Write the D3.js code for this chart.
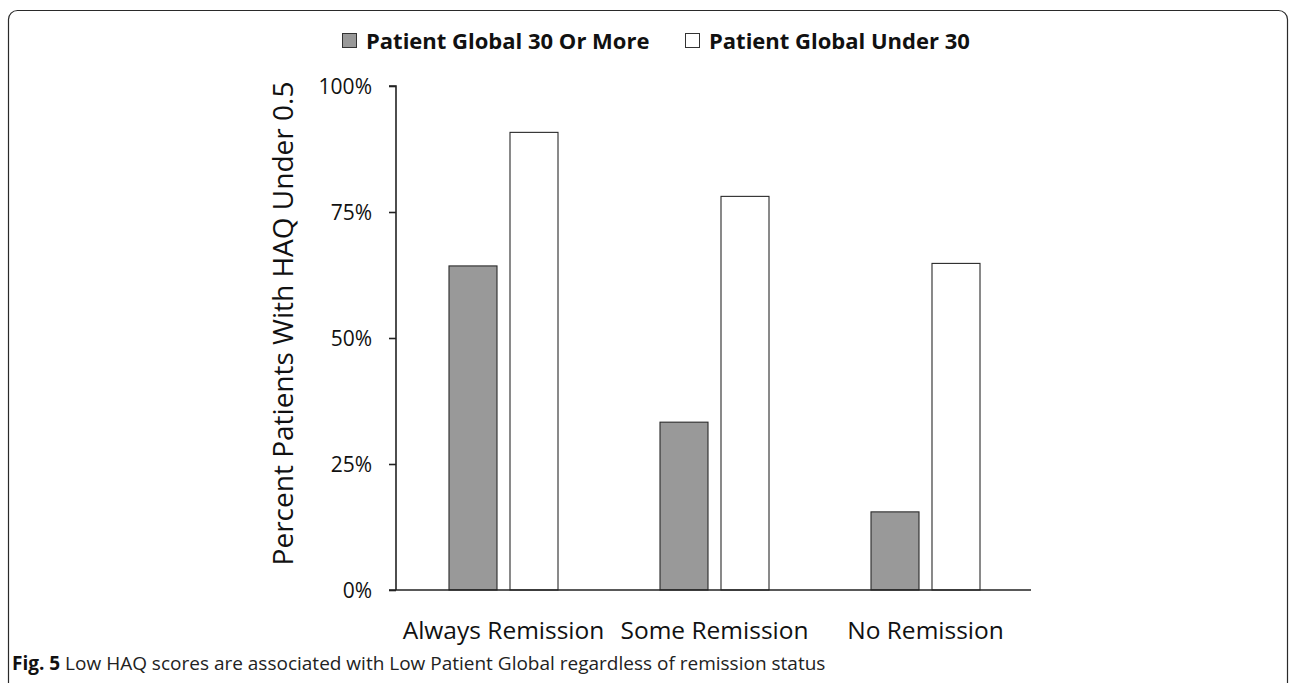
<!DOCTYPE html>
<html>
<head>
<meta charset="utf-8">
<script src="https://cdn.jsdelivr.net/npm/d3@7"></script>
<style>
  html, body { margin: 0; padding: 0; background: #fff; }
  svg { display: block; }
</style>
</head>
<body>
<svg id="chart" width="1290" height="683"></svg>
<script>
// Remission groups along the x axis
const categories = ["Always Remission", "Some Remission", "No Remission"];
// Series names, as shown in the legend
const seriesNames = ["Patient Global 30 Or More", "Patient Global Under 30"];
// Percent of patients with HAQ under 0.5, per group
const globalHigh = [64.3, 33.3, 15.5];
const globalLow = [90.8, 78.1, 64.8];
// Y axis ticks
const yTicks = [0, 25, 50, 75, 100];

const seriesValues = [globalHigh, globalLow];
const seriesFill = ["#999999", "#ffffff"];

const svg = d3.select("#chart");
const font = "'Open Sans', 'Noto Sans', sans-serif";

// Rounded frame around the figure (bottom runs past the page edge)
svg.append("rect")
  .attr("x", 8.5).attr("y", 10.5)
  .attr("width", 1279).attr("height", 700)
  .attr("rx", 9).attr("ry", 9)
  .attr("fill", "none").attr("stroke", "#2a2a2a").attr("stroke-width", 1.2);

const plot = { left: 396, right: 1031, top: 86, bottom: 590 };

const x0 = d3.scaleBand().domain(categories)
  .range([plot.left + 2, plot.right]).paddingInner(0).paddingOuter(0);
const x1 = d3.scaleBand().domain(d3.range(seriesNames.length))
  .range([0, x0.bandwidth()]).paddingInner(0.213).paddingOuter(0.836);
const y = d3.scaleLinear().domain([0, 100]).range([plot.bottom, plot.top]);

// Bars
const groups = svg.append("g").selectAll("g")
  .data(categories).join("g")
  .attr("transform", d => `translate(${x0(d)},0)`);

groups.selectAll("rect")
  .data((d, i) => seriesValues.map((vals, s) => ({ s, v: vals[i] })))
  .join("rect")
  .attr("x", d => x1(d.s))
  .attr("y", d => y(d.v))
  .attr("width", x1.bandwidth())
  .attr("height", d => y(0) - y(d.v))
  .attr("fill", d => seriesFill[d.s])
  .attr("stroke", "#2a2a2a")
  .attr("stroke-width", 1.1);

// Y axis
const yAxis = d3.axisLeft(y).tickValues(yTicks)
  .tickFormat(d => d + "%").tickSize(7).tickPadding(17);
const gy = svg.append("g").attr("transform", `translate(${plot.left},0)`).call(yAxis);
gy.select(".domain").attr("stroke", "#222").attr("stroke-width", 1.6)
  .attr("d", `M-7,${plot.top}H0V${plot.bottom}`);
gy.selectAll(".tick line").attr("stroke", "#222").attr("stroke-width", 1.6);
gy.selectAll(".tick text").attr("font-family", font).attr("font-size", 21)
  .attr("fill", "#111").attr("dy", "0.35em");

// X axis
const xAxis = d3.axisBottom(x0).tickSize(0).tickPadding(40);
const gx = svg.append("g").attr("transform", `translate(0,${plot.bottom})`).call(xAxis);
gx.select(".domain").attr("stroke", "#222").attr("stroke-width", 1.6)
  .attr("d", `M${plot.left - 7},0H${plot.right}`);
gx.selectAll(".tick text").attr("font-family", font).attr("font-size", 24.5)
  .attr("fill", "#111").attr("dy", "0.36em");

// Y axis title
svg.append("text")
  .attr("transform", `translate(293,${(82 + 565) / 2}) rotate(-90)`)
  .attr("text-anchor", "middle")
  .attr("font-family", font).attr("font-size", 28).attr("fill", "#111")
  .text("Percent Patients With HAQ Under 0.5");

// Legend
const legendStarts = [342, 685];
const lg = svg.append("g");
legendStarts.forEach((sx, i) => {
  lg.append("rect")
    .attr("x", sx + 0.5).attr("y", 33.5).attr("width", 14).attr("height", 14)
    .attr("fill", seriesFill[i]).attr("stroke", "#333").attr("stroke-width", 1);
  lg.append("text")
    .attr("x", sx + 24).attr("y", 48.5)
    .attr("font-family", font).attr("font-weight", "bold").attr("font-size", 22)
    .attr("fill", "#111")
    .text(seriesNames[i]);
});

// Caption
const cap = svg.append("text")
  .attr("x", 12).attr("y", 670)
  .attr("font-family", font)
  .attr("font-size", 19).attr("fill", "#222");
cap.append("tspan").attr("font-weight", "bold").attr("fill", "#111").text("Fig. 5");
cap.append("tspan").text(" Low HAQ scores are associated with Low Patient Global regardless of remission status");
</script>
</body>
</html>
